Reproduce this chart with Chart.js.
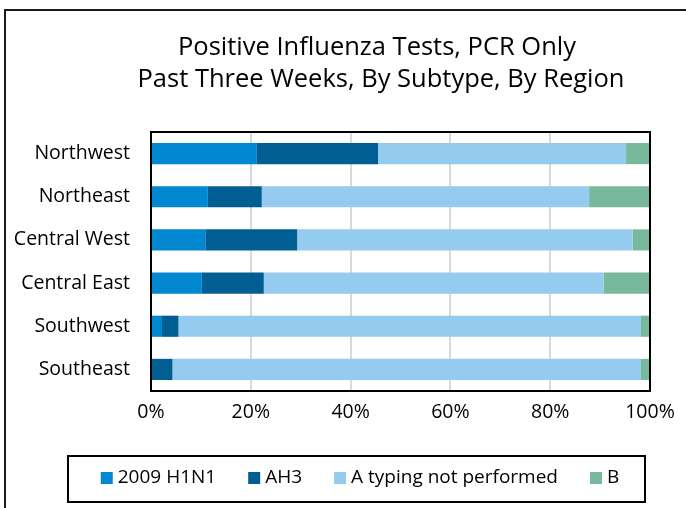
<!DOCTYPE html>
<html>
<head>
<meta charset="utf-8">
<script src="https://cdn.jsdelivr.net/npm/chart.js@4/dist/chart.umd.min.js"></script>
<style>
  html, body { margin: 0; padding: 0; background: #fff; overflow: hidden; }
  #wrap { position: relative; width: 686px; height: 508px; }
</style>
</head>
<body>
<div id="wrap"><canvas id="fluChart" width="686" height="508"></canvas></div>
<script>
// Data (percent of positive tests)
const regions = ["Northwest", "Northeast", "Central West", "Central East", "Southwest", "Southeast"];
const h1n1 = [21.1, 11.4, 11.0, 10.2, 2.2, 0];
const ah3 = [24.4, 10.8, 18.3, 12.4, 3.3, 4.3];
const aNotTyped = [49.7, 65.6, 67.2, 68.1, 92.7, 93.9];
const fluB = [4.8, 12.2, 3.5, 9.3, 1.8, 1.8];
const xTicks = [0, 20, 40, 60, 80, 100];
const titleLines = ["Positive Influenza Tests, PCR Only", "Past Three Weeks, By Subtype, By Region"];

const FONT = "'Open Sans', sans-serif";

// frame, title, plot box and boxed legend
const decor = {
  id: "decor",
  afterDraw(chart) {
    const ctx = chart.ctx;
    const a = chart.chartArea;
    ctx.save();

    // outer frame (only left/top visible in the crop)
    ctx.strokeStyle = "#1a1a1a";
    ctx.lineWidth = 2;
    ctx.beginPath();
    ctx.moveTo(5, 520);
    ctx.lineTo(5, 10);
    ctx.lineTo(700, 10);
    ctx.stroke();

    // title
    ctx.fillStyle = "#000";
    ctx.font = "25.5px " + FONT;
    ctx.textAlign = "center";
    ctx.textBaseline = "middle";
    ctx.fillText(titleLines[0], 377, 48);
    ctx.fillText(titleLines[1], 381, 80);

    // plot box
    ctx.strokeStyle = "#000";
    ctx.lineWidth = 2;
    ctx.strokeRect(a.left, a.top, a.right - a.left, a.bottom - a.top);

    // legend box
    ctx.strokeRect(68, 456, 577, 46);
    ctx.font = "19px " + FONT;
    ctx.textAlign = "left";
    const sets = chart.data.datasets;
    const box = 12, gap = 5, spacing = 32;
    let total = 0;
    sets.forEach((ds, i) => {
      total += box + gap + ctx.measureText(ds.label).width;
      if (i < sets.length - 1) total += spacing;
    });
    let x = 360 - total / 2;
    const cy = 478;
    sets.forEach((ds) => {
      ctx.fillStyle = ds.backgroundColor;
      ctx.fillRect(x, cy - box / 2, box, box);
      x += box + gap;
      ctx.fillStyle = "#000";
      ctx.fillText(ds.label, x, cy);
      x += ctx.measureText(ds.label).width + spacing;
    });
    ctx.restore();
  },
};

const ctx = document.getElementById("fluChart").getContext("2d");
const fluChart = new Chart(ctx, {
  type: "bar",
  data: {
    labels: regions,
    datasets: [
      { label: "2009 H1N1", data: h1n1, backgroundColor: "#0288d1" },
      { label: "AH3", data: ah3, backgroundColor: "#005e92" },
      { label: "A typing not performed", data: aNotTyped, backgroundColor: "#95cbef" },
      { label: "B", data: fluB, backgroundColor: "#78b99b" },
    ],
  },
  options: {
    indexAxis: "y",
    responsive: false,
    animation: false,
    datasets: {
      bar: {
        categoryPercentage: 1,
        barPercentage: 0.49,
        borderWidth: 0,
      },
    },
    layout: { padding: { top: 132, right: 36, bottom: 0, left: 0 } },
    plugins: {
      legend: { display: false },
      title: { display: false },
      tooltip: { enabled: false },
    },
    scales: {
      x: {
        stacked: true,
        min: 0,
        max: 100,
        afterBuildTicks: (scale) => {
          scale.ticks = xTicks.map((v) => ({ value: v }));
        },
        afterFit: (scale) => {
          scale.height = 117;
        },
        ticks: {
          color: "#000",
          font: { family: FONT, size: 19.5 },
          padding: 10,
          callback: (v) => v + "%",
        },
        grid: { color: "#d9d9d9", lineWidth: 2, drawTicks: false },
        border: { display: false },
      },
      y: {
        stacked: true,
        afterFit: (scale) => {
          scale.width = 151;
        },
        ticks: {
          color: "#000",
          font: { family: FONT, size: 19.5 },
          padding: 21,
        },
        grid: { display: false, drawTicks: false },
        border: { display: false },
      },
    },
  },
  plugins: [decor],
});
</script>
</body>
</html>
